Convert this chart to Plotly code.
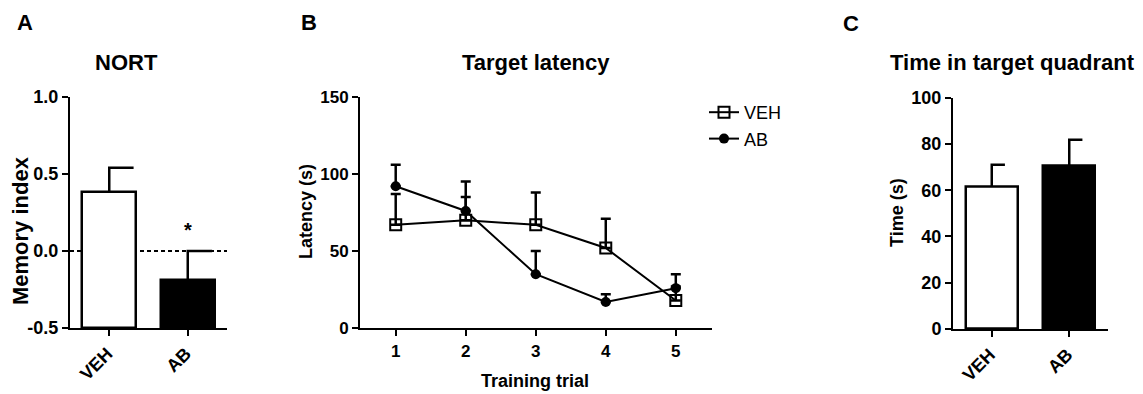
import plotly.graph_objects as go

# ---------------- data ----------------
categories = ["VEH", "AB"]
nort_mean = [0.38, -0.19]
nort_sem = [0.16, 0.19]

trials = [1, 2, 3, 4, 5]
veh_latency = [67, 70, 67, 52, 18]
veh_latency_sem = [20, 15, 21, 19, 9]
ab_latency = [92, 76, 35, 17, 26]
ab_latency_sem = [14, 19, 15, 5, 9]

quad_mean = [61.5, 70.5]
quad_sem = [9.5, 11.3]

nort_ticks = [-0.5, 0.0, 0.5, 1.0]
nort_ticktext = ["-0.5", "0.0", "0.5", "1.0"]
lat_ticks = [0, 50, 100, 150]
quad_ticks = [0, 20, 40, 60, 80, 100]

FONT = "Liberation Sans, Arial, Helvetica, sans-serif"
BLACK = "#000000"
bar_fill = ["#ffffff", "#000000"]

W, H = 1143, 394


def px_x(p):
    return p / W


def px_y(p):
    return 1 - p / H


fig = go.Figure()

xpos = list(range(len(categories)))


def error_path(means, sems, cap):
    xs, ys = [], []
    for i, (m, s) in enumerate(zip(means, sems)):
        top = m + s
        xs += [i, i, i + cap, None]
        ys += [m, top, top, None]
    return xs, ys


# ---------------- panel A ----------------
base_a = nort_ticks[0]
fig.add_trace(go.Bar(
    x=xpos, y=[m - base_a for m in nort_mean], base=base_a, width=0.69,
    marker=dict(color=bar_fill, line=dict(color=BLACK, width=2.5)),
    xaxis="x", yaxis="y", showlegend=False, hoverinfo="skip"))
ex, ey = error_path(nort_mean, nort_sem, 0.31)
fig.add_trace(go.Scatter(x=ex, y=ey, mode="lines", line=dict(color=BLACK, width=2.5),
                         xaxis="x", yaxis="y", showlegend=False, hoverinfo="skip"))

# ---------------- panel B ----------------
fig.add_trace(go.Scatter(
    x=trials, y=veh_latency, name="VEH", mode="lines+markers",
    line=dict(color=BLACK, width=2),
    marker=dict(symbol="square-open", size=11, color=BLACK, line=dict(width=2)),
    error_y=dict(type="data", array=veh_latency_sem, arrayminus=[0] * 5, symmetric=False,
                 color=BLACK, thickness=2.5, width=5),
    xaxis="x2", yaxis="y2"))
fig.add_trace(go.Scatter(
    x=trials, y=ab_latency, name="AB", mode="lines+markers",
    line=dict(color=BLACK, width=2),
    marker=dict(symbol="circle", size=10, color=BLACK),
    error_y=dict(type="data", array=ab_latency_sem, arrayminus=[0] * 5, symmetric=False,
                 color=BLACK, thickness=2.5, width=5),
    xaxis="x2", yaxis="y2"))

# ---------------- panel C ----------------
fig.add_trace(go.Bar(
    x=xpos, y=quad_mean, width=0.67,
    marker=dict(color=bar_fill, line=dict(color=BLACK, width=2.5)),
    xaxis="x3", yaxis="y3", showlegend=False, hoverinfo="skip"))
ex3, ey3 = error_path(quad_mean, quad_sem, 0.17)
fig.add_trace(go.Scatter(x=ex3, y=ey3, mode="lines", line=dict(color=BLACK, width=2.5),
                         xaxis="x3", yaxis="y3", showlegend=False, hoverinfo="skip"))


def tf(size):
    return dict(family=FONT, size=size, color=BLACK, weight="bold")


common = dict(showgrid=False, zeroline=False, showline=True, linecolor=BLACK, linewidth=2,
              ticks="outside", ticklen=6, tickwidth=2, tickcolor=BLACK, automargin=False)

fig.update_layout(
    width=W, height=H,
    margin=dict(l=0, r=0, t=0, b=0, autoexpand=False),
    paper_bgcolor="white", plot_bgcolor="white",
    bargap=0,
    xaxis=dict(domain=[px_x(70), px_x(227)], range=[-0.5, 1.5], tickvals=xpos,
               ticktext=categories, tickangle=-45, anchor="y", tickfont=tf(18),
               ticklabelshift=-2, **common),
    yaxis=dict(domain=[px_y(328), px_y(97)], range=[nort_ticks[0], nort_ticks[-1]],
               tickvals=nort_ticks, ticktext=nort_ticktext, anchor="x", tickfont=tf(18),
               **common),
    xaxis2=dict(domain=[px_x(360), px_x(711.5)], range=[0.49, 5.51], tickvals=trials,
                anchor="y2", tickfont=tf(17), **common),
    yaxis2=dict(domain=[px_y(328.3), px_y(96.7)], range=[0, 150], tickvals=lat_ticks,
                anchor="x2", tickfont=tf(17), **common),
    xaxis3=dict(domain=[px_x(953), px_x(1108)], range=[-0.5, 1.5], tickvals=xpos,
                ticktext=categories, tickangle=-45, anchor="y3", tickfont=tf(18),
                ticklabelshift=-2, **common),
    yaxis3=dict(domain=[px_y(329), px_y(97.7)], range=[0, 100], tickvals=quad_ticks,
                anchor="x3", tickfont=tf(18), **common),
    legend=dict(x=px_x(704), y=px_y(94), xanchor="left", yanchor="top",
                font=dict(family=FONT, size=18, color=BLACK),
                bgcolor="rgba(0,0,0,0)", tracegroupgap=0, itemwidth=30),
    showlegend=True,
)

# dashed zero line in panel A
fig.add_shape(type="line", xref="x domain", yref="y", x0=0, x1=1, y0=0, y1=0,
              line=dict(color=BLACK, width=2, dash="4px,3px"), layer="below")

# significance star
fig.add_annotation(x=xpos[1], y=nort_mean[1] + nort_sem[1], xref="x", yref="y",
                   text="*", showarrow=False, yanchor="bottom", yshift=8,
                   font=tf(20))

title_font = tf(22)
label_font = tf(18)

annots = [
    ("A", 25, 22, title_font, 0),
    ("B", 309, 22, title_font, 0),
    ("C", 851, 24, title_font, 0),
    ("NORT", 126, 62, title_font, 0),
    ("Target latency", 536, 62, title_font, 0),
    ("Time in target quadrant", 1012, 62, tf(22), 0),
    ("Memory index", 20, 231, tf(22), -90),
    ("Latency (s)", 306, 212, label_font, -90),
    ("Time (s)", 897, 213, label_font, -90),
    ("Training trial", 535, 381, label_font, 0),
]
for text, x, y, f, ang in annots:
    fig.add_annotation(x=px_x(x), y=px_y(y), xref="paper", yref="paper", text=text,
                       showarrow=False, xanchor="center", yanchor="middle",
                       font=f, textangle=ang)

fig.write_html("out.html", config={"displayModeBar": False},
               post_script="document.body.style.margin='0px';")
